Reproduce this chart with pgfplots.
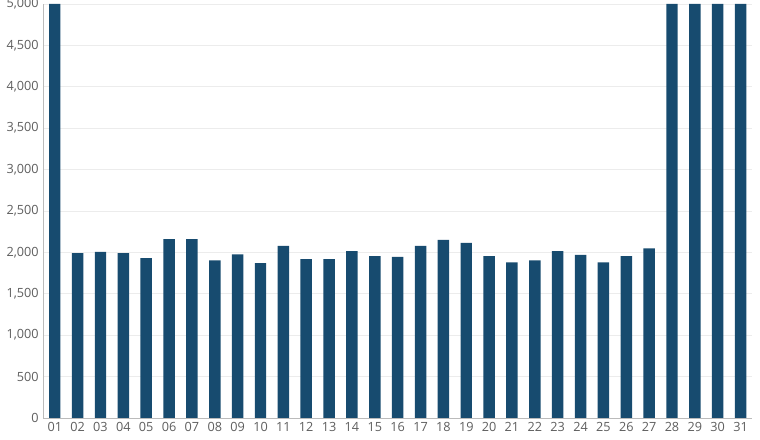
\documentclass[border=0pt]{standalone}
\usepackage{fontspec}
\setmainfont{Open Sans}
\usepackage{pgfplots}
\pgfplotsset{compat=1.18}
\definecolor{barblue}{HTML}{174B6F}
\definecolor{axgray}{HTML}{BBBBBB}
\definecolor{gridgray}{HTML}{ECECEC}
\definecolor{labgray}{HTML}{5E5E5E}
\begin{document}
\begin{tikzpicture}[x=1pt,y=1pt]
\begin{axis}[
    name=ax,
    scale only axis,
    width=531.5pt, height=310.5pt,
    xmin=0.5, xmax=31.5,
    ymin=0, ymax=5000,
    ybar, bar width=8.6pt,
    xtick={1,...,31},
    xticklabels={01,02,03,04,05,06,07,08,09,10,11,12,13,14,15,16,17,18,19,20,21,22,23,24,25,26,27,28,29,30,31},
    ytick={0,500,...,5000},
    ymajorgrids, grid style={gridgray, line width=0.6pt},
    axis x line*=bottom, axis y line*=left,
    axis line style={axgray, line width=0.7pt},
    x axis line style={-}, y axis line style={-},
    major tick length=0pt,
    tick label style={labgray, font=\fontsize{9.5}{10.5}\selectfont},
    /pgf/number format/.cd, 1000 sep={,}, assume math mode=true,
  ]
  \addplot[fill=barblue, draw=none] coordinates {
    (1,5000) (2,1990) (3,2005) (4,1990) (5,1930) (6,2160) (7,2160)
    (8,1905) (9,1975) (10,1870) (11,2080) (12,1920) (13,1920) (14,2015)
    (15,1955) (16,1945) (17,2080) (18,2150) (19,2115) (20,1955) (21,1880)
    (22,1905) (23,2015) (24,1970) (25,1880) (26,1955) (27,2050)
    (28,5000) (29,5000) (30,5000) (31,5000)
  };
\end{axis}
\pgfresetboundingbox
\path ([shift={(-32.5pt,-16.5pt)}]ax.south west) rectangle ([shift={(6pt,3pt)}]ax.north east);
\end{tikzpicture}
\end{document}
